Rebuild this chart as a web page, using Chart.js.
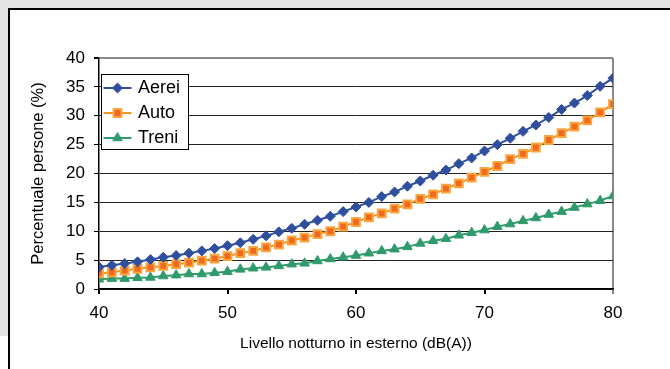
<!DOCTYPE html>
<html>
<head>
<meta charset="utf-8">
<script src="https://cdn.jsdelivr.net/npm/chart.js@4.4.1/dist/chart.umd.min.js"></script>
<style>
    body { margin: 0; background: #e3e3e3; overflow: hidden; }
    #panel { position: absolute; left: 8px; top: 8px; width: 700px; height: 400px; background: #fff; border-left: 2px solid #000; border-top: 2px solid #000; }
    #corner { position: absolute; left: 0; top: 336px; width: 8px; height: 40px; background: #fff; }
    #chart { position: absolute; left: 0; top: 0; }
</style>
</head>
<body>
<div id="panel"></div>
<div id="corner"></div>
<canvas id="chart" width="670" height="369"></canvas>
<script>
// Noise levels (dB(A)) and share of people per source (%)
const levels = [40, 41, 42, 43, 44, 45, 46, 47, 48, 49, 50, 51, 52, 53, 54, 55, 56, 57, 58, 59, 60,
    61, 62, 63, 64, 65, 66, 67, 68, 69, 70, 71, 72, 73, 74, 75, 76, 77, 78, 79, 80];

const aerei = [3.8, 4.1, 4.4, 4.7, 5.1, 5.5, 5.8, 6.2, 6.6, 7.0, 7.5, 8.0, 8.6, 9.2, 9.9, 10.5, 11.2, 11.9, 12.6, 13.4, 14.2,
    15.0, 16.0, 16.8, 17.8, 18.7, 19.7, 20.6, 21.7, 22.7, 23.9, 25.0, 26.1, 27.3, 28.4, 29.7, 31.1, 32.2, 33.5, 35.1, 36.5];

const auto = [2.7, 2.9, 3.2, 3.5, 3.75, 4.0, 4.3, 4.55, 4.9, 5.25, 5.7, 6.2, 6.6, 7.2, 7.7, 8.4, 8.9, 9.5, 10.0, 10.8, 11.6,
    12.4, 13.1, 13.9, 14.65, 15.6, 16.4, 17.4, 18.3, 19.3, 20.3, 21.3, 22.5, 23.4, 24.5, 25.8, 27.0, 28.1, 29.2, 30.6, 32.0];

const treni = [1.7, 1.8, 1.8, 1.95, 2.0, 2.25, 2.4, 2.6, 2.6, 2.8, 3.0, 3.4, 3.6, 3.75, 4.0, 4.3, 4.45, 4.85, 5.2, 5.5, 5.8,
    6.2, 6.6, 6.9, 7.3, 7.9, 8.35, 8.7, 9.3, 9.75, 10.2, 10.8, 11.25, 11.8, 12.3, 12.9, 13.4, 14.1, 14.7, 15.3, 16.1];

const seriesNames = ['Aerei', 'Auto', 'Treni'];

const FONT = "'Liberation Sans', Arial, sans-serif";

// Colours
const BLUE = '#2f4f9e';
const ORANGE = '#f7941d';
const ORANGE_IN = '#ef6a1c';
const GREEN = '#2f9a6a';

// Build a small line + marker picture for the legend
function makeSample(lineColor, fill, stroke, style, radius, bw) {
    const c = document.createElement('canvas');
    c.width = 30;
    c.height = 14;
    const ctx = c.getContext('2d');
    ctx.strokeStyle = lineColor;
    ctx.lineWidth = 2;
    ctx.beginPath();
    ctx.moveTo(1, 7);
    ctx.lineTo(29, 7);
    ctx.stroke();
    ctx.fillStyle = fill;
    ctx.strokeStyle = stroke;
    ctx.lineWidth = bw;
    Chart.helpers.drawPoint(ctx, { pointStyle: style, radius: radius, rotation: 0, borderWidth: bw }, 15, 7);
    return c;
}

const samples = [
    makeSample(BLUE, BLUE, BLUE, 'rectRot', 5, 1),
    makeSample(ORANGE, ORANGE_IN, '#f9a540', 'rect', 5.5, 2),
    makeSample(GREEN, GREEN, GREEN, 'triangle', 5.5, 1)
];

function toPoints(values) {
    return values.map((v, i) => ({ x: levels[i], y: v }));
}

// Legend sits inside the plot: white frame over the grid, legend redrawn on top
const legendFrame = {
    id: 'legendFrame',
    afterLayout(chart) {
        const area = chart.chartArea;
        const lg = chart.legend;
        lg.top = area.top + 14;
        lg.bottom = area.bottom;
        lg.height = lg.bottom - lg.top;
    },
    afterDraw(chart) {
        const ctx = chart.ctx;
        const area = chart.chartArea;
        const x = area.left + 2;
        const y = area.top + 16;
        ctx.save();
        ctx.fillStyle = '#fff';
        ctx.fillRect(x, y, 88, 76);
        ctx.strokeStyle = '#000';
        ctx.lineWidth = 1;
        ctx.strokeRect(x + 0.5, y + 0.5, 87, 75);
        ctx.restore();
        chart.legend.draw();
    }
};

new Chart(document.getElementById('chart'), {
    type: 'line',
    data: {
        datasets: [
            {
                label: seriesNames[0],
                data: toPoints(aerei),
                borderColor: BLUE,
                backgroundColor: BLUE,
                borderWidth: 2,
                pointStyle: 'rectRot',
                pointRadius: 5,
                pointBorderWidth: 1
            },
            {
                label: seriesNames[1],
                data: toPoints(auto),
                borderColor: ORANGE,
                backgroundColor: ORANGE_IN,
                pointBorderColor: '#f9a540',
                borderWidth: 2,
                pointStyle: 'rect',
                pointRadius: 5.5,
                pointBorderWidth: 2
            },
            {
                label: seriesNames[2],
                data: toPoints(treni),
                borderColor: GREEN,
                backgroundColor: GREEN,
                borderWidth: 2,
                pointStyle: 'triangle',
                pointRadius: 5.5,
                pointBorderWidth: 1
            }
        ]
    },
    options: {
        responsive: false,
        animation: false,
        devicePixelRatio: 1,
        layout: { padding: { top: 58, right: 57, bottom: 0, left: 0 } },
        plugins: {
            legend: {
                position: 'chartArea',
                align: 'start',
                labels: {
                    usePointStyle: true,
                    pointStyleWidth: 23,
                    padding: 7,
                    color: '#000',
                    font: { family: FONT, size: 18 },
                    generateLabels: chart => chart.data.datasets.map((ds, i) => ({
                        text: ds.label,
                        pointStyle: samples[i],
                        fillStyle: ds.backgroundColor,
                        strokeStyle: ds.borderColor,
                        lineWidth: 0,
                        hidden: false,
                        datasetIndex: i,
                        fontColor: '#000'
                    }))
                }
            },
            tooltip: { enabled: false }
        },
        scales: {
            x: {
                type: 'linear',
                min: 40,
                max: 80,
                afterFit: s => { s.height = 80; },
                ticks: {
                    stepSize: 10,
                    padding: 9,
                    color: '#000',
                    font: { family: FONT, size: 17 }
                },
                grid: {
                    color: c => c.tick && c.tick.value === 80 ? '#888' : 'rgba(0,0,0,0)',
                    lineWidth: 2,
                    tickColor: c => c.tick && c.tick.value === 80 ? '#888' : '#000',
                    tickLength: 5
                },
                border: { color: '#000', width: 1.5 },
                title: {
                    display: true,
                    text: 'Livello notturno in esterno (dB(A))',
                    color: '#000',
                    font: { family: FONT, size: 15.5 },
                    padding: { top: 0, bottom: 16 }
                }
            },
            y: {
                min: 0,
                max: 40,
                afterFit: s => { s.width = 99; },
                ticks: {
                    stepSize: 5,
                    padding: 9,
                    color: '#000',
                    font: { family: FONT, size: 17 }
                },
                grid: {
                    color: c => c.tick && c.tick.value === 40 ? '#888' : '#222',
                    lineWidth: c => c.tick && c.tick.value === 40 ? 2 : 1,
                    tickColor: '#000',
                    tickLength: 5
                },
                border: { color: '#000', width: 1.5 },
                title: {
                    display: true,
                    text: 'Percentuale persone (%)',
                    color: '#000',
                    font: { family: FONT, size: 16.5 },
                    padding: { top: 29, bottom: 0 }
                }
            }
        }
    },
    plugins: [legendFrame]
});
</script>
</body>
</html>
